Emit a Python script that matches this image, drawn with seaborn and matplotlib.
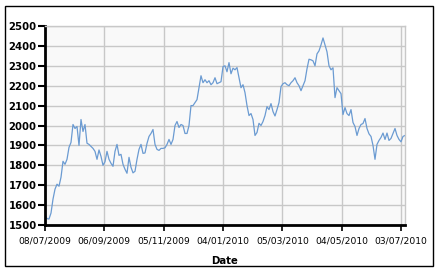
import matplotlib
matplotlib.use("Agg")
import matplotlib.pyplot as plt
import matplotlib.dates as mdates
from matplotlib.patches import Rectangle
import seaborn as sns
import pandas as pd

values = [
    1550, 1532, 1530, 1560, 1630, 1680, 1705, 1695, 1740, 1820,
    1805, 1830, 1890, 1915, 2005, 1985, 1995, 1900, 2030, 1970,
    2005, 1911, 1905, 1895, 1885, 1870, 1830, 1877, 1845, 1800,
    1818, 1870, 1830, 1810, 1795, 1870, 1905, 1850, 1855, 1805,
    1780, 1760, 1840, 1790, 1762, 1770, 1830, 1880, 1905, 1860,
    1862, 1910, 1945, 1960, 1980, 1905, 1880, 1875, 1885, 1885,
    1888, 1905, 1930, 1905, 1930, 2000, 2020, 1990, 2005, 2000,
    1960, 1960, 2000, 2100, 2100, 2115, 2130, 2190, 2250, 2215,
    2230, 2215, 2225, 2205, 2215, 2240, 2210, 2215, 2220, 2296,
    2300, 2270, 2316, 2260, 2288, 2280, 2291, 2240, 2190, 2205,
    2165, 2100, 2050, 2060, 2030, 1950, 1965, 2011, 2000, 2020,
    2050, 2095, 2080, 2110, 2070, 2048, 2080, 2115, 2195, 2210,
    2215, 2205, 2200, 2215, 2225, 2240, 2215, 2200, 2175, 2200,
    2225, 2285, 2333, 2330, 2325, 2300, 2360, 2375, 2405, 2440,
    2405, 2370, 2300, 2280, 2290, 2140, 2190, 2175, 2160, 2055,
    2090, 2060, 2050, 2080, 2015, 1995, 1950, 1985, 2005, 2010,
    2035, 1985, 1958, 1945, 1900, 1830, 1905, 1925, 1940, 1962,
    1930, 1962, 1925, 1935, 1960, 1985, 1950, 1930, 1918, 1945,
    1950,
]
start_date = "2009-07-08"
end_date = "2010-07-07"
tick_dates = pd.date_range("2009-07-08", periods=7, freq="60D")
y_ticks = [1500, 1600, 1700, 1800, 1900, 2000, 2100, 2200, 2300, 2400, 2500]

dates = pd.date_range(start_date, end_date, periods=len(values))
df = pd.DataFrame({"Date": dates, "Value": values})

sns.set_theme(style="white")
plt.rcParams['font.family'] = ['DejaVu Sans']

W, H = 441, 277
fig = plt.figure(figsize=(W / 100, H / 100), dpi=100)
fig.patch.set_facecolor("white")
ax = fig.add_axes([45 / W, 1 - 225 / H, 360 / W, 199 / H])

sns.lineplot(data=df, x="Date", y="Value", ax=ax, color="#6b9bd2", linewidth=0.9)

ax.set_facecolor("#f9f9f9")
ax.set_xlim(dates[0], dates[-1])
ax.set_ylim(1500, 2500)
ax.set_yticks(y_ticks)
ax.set_xticks(tick_dates)
ax.xaxis.set_major_formatter(mdates.DateFormatter("%d/%m/%Y"))
ax.grid(True, color="#c8c8c8", linewidth=1.0)
ax.set_axisbelow(True)

for s in ["top", "right"]:
    ax.spines[s].set_color("#c8c8c8")
    ax.spines[s].set_linewidth(1.0)
for s in ["left", "bottom"]:
    ax.spines[s].set_color("black")
    ax.spines[s].set_linewidth(2.0)

ax.tick_params(axis="y", left=True, length=5, width=1.5, color="black",
               pad=1, labelsize=7.3, labelcolor="black")
ax.tick_params(axis="x", bottom=True, length=4, width=1.2, color="black",
               pad=4, labelsize=6.6, labelcolor="black")
for lbl in ax.get_yticklabels():
    lbl.set_fontweight("bold")

ax.set_xlabel("Date", fontsize=7.3, fontweight="bold", color="black", labelpad=8)
ax.set_ylabel("")

fig.patches.append(Rectangle((5 / W, 1 - 266 / H), 428 / W, 260 / H,
                             transform=fig.transFigure, fill=False,
                             edgecolor="black", linewidth=1.0))

fig.savefig("out.png", dpi=100)
